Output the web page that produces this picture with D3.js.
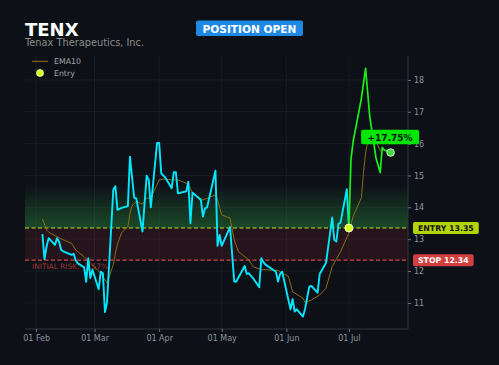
<!DOCTYPE html>
<html>
<head>
<meta charset="utf-8">
<script src="https://cdn.jsdelivr.net/npm/d3@7"></script>
<style>
  html, body { margin: 0; padding: 0; background: #0d1117; }
  svg { display: block; font-family: "DejaVu Sans", sans-serif; }
</style>
</head>
<body>
<div id="chart"></div>
<script>
// Daily closes (vertices)
const closes = [
  ["2025-02-04", 13.16], ["2025-02-05", 12.37], ["2025-02-06", 12.77], ["2025-02-07", 13.03],
  ["2025-02-10", 12.82], ["2025-02-11", 13.03], ["2025-02-12", 12.92], ["2025-02-13", 12.66],
  ["2025-02-14", 12.62], ["2025-02-18", 12.51], ["2025-02-19", 12.54], ["2025-02-20", 12.33],
  ["2025-02-21", 12.24], ["2025-02-24", 12.12], ["2025-02-25", 11.66], ["2025-02-26", 12.40],
  ["2025-02-27", 11.78], ["2025-02-28", 12.04], ["2025-03-03", 11.43], ["2025-03-04", 11.98],
  ["2025-03-05", 11.93], ["2025-03-06", 10.71], ["2025-03-07", 11.02], ["2025-03-10", 14.55],
  ["2025-03-11", 14.66], ["2025-03-12", 13.92], ["2025-03-14", 13.98], ["2025-03-17", 14.04],
  ["2025-03-18", 15.59], ["2025-03-20", 14.30], ["2025-03-21", 14.28], ["2025-03-24", 13.24],
  ["2025-03-26", 14.99], ["2025-03-27", 14.86], ["2025-03-28", 14.00], ["2025-03-31", 16.02],
  ["2025-04-01", 16.02], ["2025-04-02", 15.06], ["2025-04-04", 14.93], ["2025-04-07", 14.60],
  ["2025-04-08", 15.10], ["2025-04-09", 15.10], ["2025-04-10", 14.44], ["2025-04-14", 14.50],
  ["2025-04-15", 14.80], ["2025-04-16", 13.50], ["2025-04-17", 14.46], ["2025-04-21", 14.23],
  ["2025-04-22", 13.71], ["2025-04-23", 13.97], ["2025-04-24", 14.00], ["2025-04-28", 15.15],
  ["2025-04-29", 12.79], ["2025-04-30", 13.13], ["2025-05-01", 12.79], ["2025-05-05", 13.38],
  ["2025-05-07", 11.67], ["2025-05-08", 11.67], ["2025-05-12", 12.16], ["2025-05-13", 11.91],
  ["2025-05-14", 11.93], ["2025-05-16", 11.78], ["2025-05-19", 11.49], ["2025-05-20", 12.40],
  ["2025-05-21", 12.28], ["2025-05-22", 12.20], ["2025-05-27", 11.98], ["2025-05-28", 11.67],
  ["2025-05-29", 11.91], ["2025-05-30", 11.98], ["2025-06-02", 11.09], ["2025-06-03", 10.80],
  ["2025-06-04", 11.12], ["2025-06-05", 10.73], ["2025-06-06", 10.80], ["2025-06-09", 10.57],
  ["2025-06-10", 10.82], ["2025-06-12", 11.51], ["2025-06-13", 11.53], ["2025-06-16", 11.32],
  ["2025-06-17", 11.91], ["2025-06-20", 12.25], ["2025-06-23", 13.68], ["2025-06-24", 12.98],
  ["2025-06-25", 12.93], ["2025-06-26", 13.48], ["2025-06-27", 13.52], ["2025-06-30", 14.57],
  ["2025-07-01", 13.35], ["2025-07-02", 15.50], ["2025-07-03", 16.05], ["2025-07-07", 17.42],
  ["2025-07-09", 18.36], ["2025-07-11", 16.85], ["2025-07-14", 15.55], ["2025-07-16", 15.09],
  ["2025-07-17", 15.88], ["2025-07-18", 15.80], ["2025-07-21", 15.72]
];

// EMA10 as drawn in the reference
const ema10 = [
  ["2025-02-04", 13.64], ["2025-02-06", 13.29], ["2025-02-07", 13.22], ["2025-02-11", 13.08],
  ["2025-02-14", 12.98], ["2025-02-18", 12.87], ["2025-02-20", 12.66], ["2025-02-24", 12.45],
  ["2025-02-27", 12.25], ["2025-03-04", 11.93], ["2025-03-07", 11.62], ["2025-03-10", 12.20],
  ["2025-03-11", 12.56], ["2025-03-12", 12.85], ["2025-03-14", 13.20], ["2025-03-17", 13.40],
  ["2025-03-18", 13.81], ["2025-03-19", 14.05], ["2025-03-21", 14.18], ["2025-03-24", 14.10],
  ["2025-03-26", 14.29], ["2025-03-28", 14.29], ["2025-04-01", 14.86], ["2025-04-03", 14.89],
  ["2025-04-07", 14.86], ["2025-04-10", 14.86], ["2025-04-15", 14.73], ["2025-04-17", 14.44],
  ["2025-04-22", 14.23], ["2025-04-28", 14.39], ["2025-04-29", 14.23], ["2025-05-01", 13.76],
  ["2025-05-05", 13.66], ["2025-05-07", 12.98], ["2025-05-09", 12.61], ["2025-05-14", 12.35],
  ["2025-05-16", 12.14], ["2025-05-20", 12.04], ["2025-05-23", 12.04], ["2025-05-28", 12.02],
  ["2025-06-02", 11.83], ["2025-06-04", 11.35], ["2025-06-09", 11.15], ["2025-06-10", 11.01],
  ["2025-06-13", 11.09], ["2025-06-17", 11.25], ["2025-06-20", 11.46], ["2025-06-23", 12.14],
  ["2025-06-27", 12.61], ["2025-07-01", 13.19], ["2025-07-03", 13.71], ["2025-07-07", 14.30],
  ["2025-07-08", 15.10], ["2025-07-09", 15.70], ["2025-07-10", 16.05], ["2025-07-11", 16.20],
  ["2025-07-14", 16.07], ["2025-07-15", 15.93], ["2025-07-16", 15.78], ["2025-07-17", 15.80],
  ["2025-07-21", 15.78]
];

const ticker = "TENX";
const companyName = "Tenax Therapeutics, Inc.";
const statusLabel = "POSITION OPEN";
const entryDate = "2025-07-01";
const entryPrice = 13.35;
const stopPrice = 12.34;

const W = 499, H = 365;
const plot = { left: 25, right: 408, top: 56, bottom: 329 };

const parse = d3.timeParse("%Y-%m-%d");
const priceData = closes.map(([d, v]) => ({ date: parse(d), value: v }));
const emaData = ema10.map(([d, v]) => ({ date: parse(d), value: v }));
const entryDt = parse(entryDate);
const last = priceData[priceData.length - 1];
const pnlPct = (last.value / entryPrice - 1) * 100;
const riskPct = (stopPrice / entryPrice - 1) * 100;

// 5% margins like the source plot
const [t0, t1] = d3.extent(priceData, d => d.date);
const tPad = (t1 - t0) * 0.05;
const [v0, v1] = d3.extent(priceData, d => d.value);
const vPad = (v1 - v0) * 0.05;

const x = d3.scaleTime()
    .domain([new Date(+t0 - tPad), new Date(+t1 + tPad)])
    .range([plot.left, plot.right]);
const y = d3.scaleLinear()
    .domain([v0 - vPad, v1 + vPad])
    .range([plot.bottom, plot.top]);

const svg = d3.select("#chart").append("svg")
    .attr("width", W).attr("height", H);

svg.append("rect").attr("width", W).attr("height", H).attr("fill", "#0d1117");

const defs = svg.append("defs");
const grad = defs.append("linearGradient")
    .attr("id", "gainZone").attr("x1", 0).attr("x2", 0).attr("y1", 0).attr("y2", 1);
grad.append("stop").attr("offset", "0%").attr("stop-color", "#2ea043").attr("stop-opacity", 0);
grad.append("stop").attr("offset", "100%").attr("stop-color", "#2ea043").attr("stop-opacity", 0.4);

defs.append("clipPath").attr("id", "plotClip")
  .append("rect")
    .attr("x", plot.left).attr("y", plot.top)
    .attr("width", plot.right - plot.left).attr("height", plot.bottom - plot.top);

/* Grid */
const xTicks = x.ticks(d3.timeMonth.every(1));
const yTicks = y.ticks(8);
const grid = svg.append("g").attr("class", "grid");
grid.selectAll("line.v").data(xTicks).join("line")
    .attr("x1", d => x(d)).attr("x2", d => x(d))
    .attr("y1", plot.top).attr("y2", plot.bottom)
    .attr("stroke", "#1a1f27").attr("stroke-width", 0.8);
grid.selectAll("line.h").data(yTicks).join("line")
    .attr("x1", plot.left).attr("x2", plot.right)
    .attr("y1", d => y(d)).attr("y2", d => y(d))
    .attr("stroke", "#1a1f27").attr("stroke-width", 0.8);

/* Zones */
const zones = svg.append("g").attr("clip-path", "url(#plotClip)");
zones.append("rect")
    .attr("x", plot.left).attr("width", plot.right - plot.left)
    .attr("y", y(entryPrice * 1.1)).attr("height", y(entryPrice) - y(entryPrice * 1.1))
    .attr("fill", "url(#gainZone)");
zones.append("rect")
    .attr("x", plot.left).attr("width", plot.right - plot.left)
    .attr("y", y(entryPrice)).attr("height", y(stopPrice) - y(entryPrice))
    .attr("fill", "#c83040").attr("fill-opacity", 0.13);

/* Entry / stop lines */
svg.append("line")
    .attr("x1", plot.left).attr("x2", plot.right)
    .attr("y1", y(entryPrice)).attr("y2", y(entryPrice))
    .attr("stroke", "#c4dc1a").attr("stroke-width", 1.2).attr("stroke-dasharray", "4,2.5");
svg.append("line")
    .attr("x1", plot.left).attr("x2", plot.right)
    .attr("y1", y(stopPrice)).attr("y2", y(stopPrice))
    .attr("stroke", "#d04545").attr("stroke-width", 1.2).attr("stroke-dasharray", "4,2.5");

svg.append("text")
    .attr("x", plot.left + 7).attr("y", y(stopPrice) + 9)
    .attr("font-size", 7.4).attr("fill", "#c03c3c").attr("fill-opacity", 0.85)
    .text(`INITIAL RISK: ${riskPct.toFixed(2)}%`);

/* Axes */
svg.append("line")
    .attr("x1", plot.right).attr("x2", plot.right)
    .attr("y1", plot.top).attr("y2", plot.bottom)
    .attr("stroke", "#30363d").attr("stroke-width", 1);
svg.append("line")
    .attr("x1", plot.left).attr("x2", plot.right)
    .attr("y1", plot.bottom).attr("y2", plot.bottom)
    .attr("stroke", "#30363d").attr("stroke-width", 1);

const yAxis = svg.append("g")
    .attr("transform", `translate(${plot.right},0)`)
    .call(d3.axisRight(y).tickValues(yTicks).tickSize(3).tickPadding(3).tickFormat(d3.format("d")));
const xAxis = svg.append("g")
    .attr("transform", `translate(0,${plot.bottom})`)
    .call(d3.axisBottom(x).tickValues(xTicks).tickSize(3).tickPadding(3)
        .tickFormat(d3.timeFormat("%d %b")));
for (const ax of [xAxis, yAxis]) {
  ax.select(".domain").remove();
  ax.selectAll(".tick line").attr("stroke", "#6e7681");
  ax.selectAll(".tick text")
      .attr("fill", "#8b949e").attr("font-size", 8)
      .attr("font-family", "DejaVu Sans, sans-serif");
}

/* Series */
const lineGen = d3.line().x(d => x(d.date)).y(d => y(d.value));
const series = svg.append("g").attr("clip-path", "url(#plotClip)");

series.append("path")
    .datum(emaData)
    .attr("d", lineGen)
    .attr("fill", "none").attr("stroke", "#9a7214").attr("stroke-width", 1)
    .attr("stroke-opacity", 0.9);

const before = priceData.filter(d => d.date <= entryDt);
const after = priceData.filter(d => d.date >= entryDt);
series.append("path")
    .datum(before)
    .attr("d", lineGen)
    .attr("fill", "none").attr("stroke", "#00e8ff").attr("stroke-width", 1.9)
    .attr("stroke-linejoin", "round");
series.append("path")
    .datum(after)
    .attr("d", lineGen)
    .attr("fill", "none").attr("stroke", "#1aef1a").attr("stroke-width", 1.7)
    .attr("stroke-linejoin", "round");

svg.append("circle")
    .attr("cx", x(entryDt)).attr("cy", y(entryPrice)).attr("r", 4)
    .attr("fill", "#d4ff1a").attr("stroke", "#ffffff").attr("stroke-width", 0.8);
svg.append("circle")
    .attr("cx", x(last.date)).attr("cy", y(last.value)).attr("r", 3.8)
    .attr("fill", "#3ddc3d").attr("stroke", "#ffffff").attr("stroke-width", 0.8);

/* Badges */
function badge(cx, cy, label, opts) {
  const { bg, fg, size, padX, h, anchor } = opts;
  const g = svg.append("g");
  const t = g.append("text")
      .attr("font-size", size).attr("font-weight", "bold").attr("fill", fg)
      .attr("dominant-baseline", "central")
      .text(label);
  const w = t.node().getComputedTextLength();
  const left = anchor === "middle" ? cx - w / 2 - padX : cx;
  t.attr("x", left + padX).attr("y", cy + 0.5);
  g.insert("rect", "text")
      .attr("x", left).attr("y", cy - h / 2)
      .attr("width", w + padX * 2).attr("height", h)
      .attr("rx", 2).attr("fill", bg);
  return g;
}

badge(plot.right + 5, y(entryPrice), `ENTRY ${entryPrice.toFixed(2)}`,
    { bg: "#b4d40a", fg: "#111111", size: 7.8, padX: 5, h: 12, anchor: "start" });
badge(plot.right + 5, y(stopPrice), `STOP ${stopPrice.toFixed(2)}`,
    { bg: "#d23f3f", fg: "#ffffff", size: 7.8, padX: 5, h: 12, anchor: "start" });
badge(x(last.date) - 0.5, y(last.value) - 15.5, `+${pnlPct.toFixed(2)}%`,
    { bg: "#00e600", fg: "#0d1117", size: 9, padX: 6.5, h: 14.5, anchor: "middle" });
badge(W / 2, 28.3, statusLabel,
    { bg: "#1e88e5", fg: "#ffffff", size: 10.6, padX: 6.5, h: 15.5, anchor: "middle" });

/* Title */
svg.append("text")
    .attr("x", 25).attr("y", 36.3)
    .attr("font-size", 18).attr("font-weight", "bold").attr("fill", "#ffffff")
    .text(ticker);
svg.append("text")
    .attr("x", 25).attr("y", 45.6)
    .attr("font-size", 9.8).attr("fill", "#8b8b8b")
    .text(companyName);

/* Legend */
const legend = svg.append("g").attr("font-size", 7.8).attr("fill", "#a0a4aa");
legend.append("line")
    .attr("x1", 32).attr("x2", 48).attr("y1", 61.3).attr("y2", 61.3)
    .attr("stroke", "#9a7214").attr("stroke-width", 1);
legend.append("text").attr("x", 54).attr("y", 64.2).text("EMA10");
legend.append("circle")
    .attr("cx", 40).attr("cy", 73).attr("r", 3.6)
    .attr("fill", "#d4ff1a").attr("stroke", "#ffffff").attr("stroke-width", 0.6);
legend.append("text").attr("x", 54).attr("y", 75.9).text("Entry");
</script>
</body>
</html>
